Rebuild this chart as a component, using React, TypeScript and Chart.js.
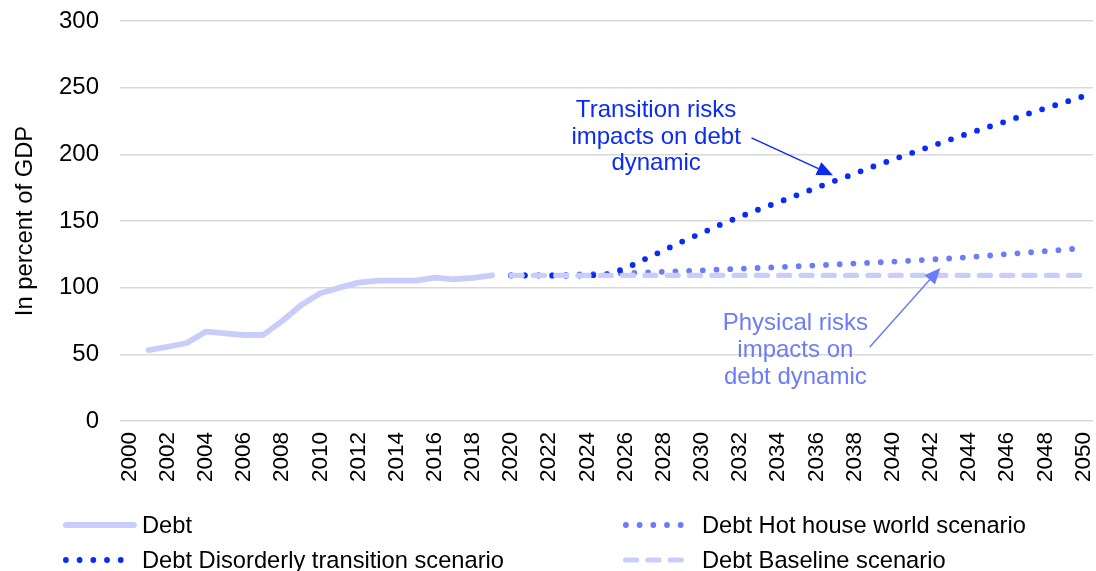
import { useEffect, useRef } from 'react';
import { Chart, registerables } from 'chart.js';

Chart.register(...registerables);

const FONT = "'Liberation Sans', Arial, sans-serif";

const years = [
  '2000', '2001', '2002', '2003', '2004', '2005', '2006', '2007', '2008', '2009',
  '2010', '2011', '2012', '2013', '2014', '2015', '2016', '2017', '2018', '2019',
  '2020', '2021', '2022', '2023', '2024', '2025', '2026', '2027', '2028', '2029',
  '2030', '2031', '2032', '2033', '2034', '2035', '2036', '2037', '2038', '2039',
  '2040', '2041', '2042', '2043', '2044', '2045', '2046', '2047', '2048', '2049',
  '2050',
];

const N20 = [null, null, null, null, null, null, null, null, null, null,
  null, null, null, null, null, null, null, null, null, null];

const debt: (number | null)[] = [
  null, 53.2, 55.7, 58.5, 67, 65.8, 64.5, 64.5, 75, 87,
  95.8, 100, 103.8, 105.3, 105.3, 105.3, 107.5, 106.3, 107.3, 109.3,
  null, null, null, null, null, null, null, null, null, null,
  null, null, null, null, null, null, null, null, null, null,
  null, null, null, null, null, null, null, null, null, null,
  null,
];

const hotHouse: (number | null)[] = [
  ...N20,
  109.2, 109.3, 109.4, 109.7, 110, 110.4, 110.9, 111.4, 111.9, 112.5,
  113, 113.6, 114.2, 114.8, 115.4, 116, 116.7, 117.4, 118.1, 118.8,
  119.5, 120.3, 121.1, 121.9, 122.9, 124, 125.2, 126.3, 127.4, 128.5,
  129.7,
];

const disorderly: (number | null)[] = [
  ...N20,
  109.2, 109.1, 109, 109, 109.2, 109.8, 114.5, 121.3, 128, 134.8,
  141, 147.5, 153.2, 158.8, 164, 169.5, 175, 180.3, 185.5, 191,
  196, 201, 206, 211, 215.8, 220.5, 225, 230, 234.5, 239,
  243.5,
];

const baseline: (number | null)[] = [
  ...N20,
  109.2, 109.2, 109.2, 109.2, 109.2, 109.2, 109.2, 109.2, 109.2, 109.2,
  109.2, 109.2, 109.2, 109.2, 109.2, 109.2, 109.2, 109.2, 109.2, 109.2,
  109.2, 109.2, 109.2, 109.2, 109.2, 109.2, 109.2, 109.2, 109.2, 109.2,
  109.2,
];

const seriesNames = [
  'Debt',
  'Debt Hot house world scenario',
  'Debt Disorderly transition scenario',
  'Debt Baseline scenario',
];

const C_LIGHT = '#C8CEFA';
const C_HOT = '#6C7CF6';
const C_DIS = '#0A2BF5';

// annotation anchors in data coordinates (category index, value)
const annotations = [
  {
    lines: ['Transition risks', 'impacts on debt', 'dynamic'],
    x: 27.6, y: 213, color: C_DIS,
    from: [32.6, 212.3], to: [36.87, 184.3],
  },
  {
    lines: ['Physical risks', 'impacts on', 'debt dynamic'],
    x: 34.9, y: 53, color: C_HOT,
    from: [38.8, 55.5], to: [42.5, 114.8],
  },
];

// legend grid: [datasetIndex, column, row]
const legendGrid = [
  [0, 0, 0],
  [1, 1, 0],
  [2, 0, 1],
  [3, 1, 1],
];
const legendColX = [63, 623];
const legendRowFromBottom = [46, 11];

const overlayPlugin = {
  id: 'overlay',
  afterDraw(chart: any) {
    const ctx = chart.ctx as CanvasRenderingContext2D;
    const xs = chart.scales.x;
    const ys = chart.scales.y;
    // annotations
    ctx.save();
    annotations.forEach((a) => {
      ctx.fillStyle = a.color;
      ctx.font = `24px ${FONT}`;
      ctx.textAlign = 'center';
      ctx.textBaseline = 'middle';
      const cx = xs.getPixelForValue(a.x);
      const cy = ys.getPixelForValue(a.y);
      const lh = 26.7;
      a.lines.forEach((t, i) => {
        ctx.fillText(t, cx, cy + (i - (a.lines.length - 1) / 2) * lh);
      });
      const x1 = xs.getPixelForValue(a.from[0]);
      const y1 = ys.getPixelForValue(a.from[1]);
      const x2 = xs.getPixelForValue(a.to[0]);
      const y2 = ys.getPixelForValue(a.to[1]);
      const ang = Math.atan2(y2 - y1, x2 - x1);
      const hl = 16;
      const hw = 7;
      const bx = x2 - hl * Math.cos(ang);
      const by = y2 - hl * Math.sin(ang);
      ctx.strokeStyle = a.color;
      ctx.lineWidth = 1.5;
      ctx.beginPath();
      ctx.moveTo(x1, y1);
      ctx.lineTo(bx, by);
      ctx.stroke();
      ctx.beginPath();
      ctx.moveTo(x2, y2);
      ctx.lineTo(bx + hw * Math.sin(ang), by - hw * Math.cos(ang));
      ctx.lineTo(bx - hw * Math.sin(ang), by + hw * Math.cos(ang));
      ctx.closePath();
      ctx.fill();
    });
    ctx.restore();

    // legend
    ctx.save();
    legendGrid.forEach(([di, col, row]) => {
      const ds = chart.data.datasets[di];
      const x0 = legendColX[col];
      const y0 = chart.height - legendRowFromBottom[row];
      ctx.strokeStyle = ds.borderColor;
      ctx.lineWidth = ds.borderWidth;
      ctx.lineCap = 'round';
      const dash = ds.borderDash || [];
      ctx.setLineDash(dash);
      ctx.beginPath();
      let len = 68;
      if (dash.length && dash[0] === 0) len = 4 * dash[1] + 0.1;
      else if (dash.length) len = 3 * dash[0] + 2 * dash[1];
      const start = x0 + ds.borderWidth / 2;
      ctx.moveTo(start, y0);
      ctx.lineTo(start + len, y0);
      ctx.stroke();
      ctx.setLineDash([]);
      ctx.fillStyle = '#000';
      ctx.font = `23.7px ${FONT}`;
      ctx.textAlign = 'left';
      ctx.textBaseline = 'middle';
      ctx.fillText(ds.label, x0 + 79, y0 + 1);
    });
    ctx.restore();
  },
};

export default function App() {
  const ref = useRef<HTMLCanvasElement | null>(null);
  useEffect(() => {
    if (!ref.current) return;
    const chart = new Chart(ref.current, {
      type: 'line',
      data: {
        labels: years,
        datasets: [
          {
            label: seriesNames[0], data: debt, borderColor: C_LIGHT, backgroundColor: C_LIGHT,
            borderWidth: 5.8, pointRadius: 0, borderCapStyle: 'round', borderJoinStyle: 'round',
            order: 3, spanGaps: false,
          },
          {
            label: seriesNames[1], data: hotHouse, borderColor: C_HOT, backgroundColor: C_HOT,
            borderWidth: 5.8, pointRadius: 0, borderCapStyle: 'round', borderDash: [0, 13.7],
            order: 2,
          },
          {
            label: seriesNames[2], data: disorderly, borderColor: C_DIS, backgroundColor: C_DIS,
            borderWidth: 5.8, pointRadius: 0, borderCapStyle: 'round', borderDash: [0, 13.7],
            order: 1,
          },
          {
            label: seriesNames[3], data: baseline, borderColor: C_LIGHT, backgroundColor: C_LIGHT,
            borderWidth: 5.2, pointRadius: 0, borderCapStyle: 'round', borderDash: [11, 11.3],
            order: 0,
          },
        ] as any,
      },
      options: {
        animation: false,
        responsive: true,
        maintainAspectRatio: false,
        layout: { padding: { left: 0, right: 3, top: 21, bottom: 80 } },
        plugins: {
          legend: { display: false },
          tooltip: { enabled: false },
        },
        scales: {
          x: {
            type: 'category',
            offset: true,
            grid: { display: false },
            border: { display: false },
            ticks: {
              autoSkip: false,
              minRotation: 90,
              maxRotation: 90,
              padding: 3,
              color: '#000',
              font: { family: FONT, size: 22.5 },
              callback: (_v: any, i: number) => (i % 2 === 0 ? years[i] : ''),
            },
            afterFit: (s: any) => { s.height = 70; s.paddingLeft = 0; s.paddingRight = 0; },
          },
          y: {
            min: 0,
            max: 300,
            ticks: {
              stepSize: 50,
              padding: 21,
              color: '#000',
              font: { family: FONT, size: 24 },
            },
            grid: { color: '#D9D9D9', lineWidth: 1.5, drawTicks: false },
            border: { display: false },
            title: {
              display: true,
              text: 'In percent of GDP',
              color: '#000',
              font: { family: FONT, size: 23.8 },
              padding: { top: 11.5, bottom: 0 },
            },
            afterFit: (s: any) => { s.width = 120; s.paddingTop = 0; s.paddingBottom = 0; },
          },
        },
      } as any,
      plugins: [overlayPlugin],
    });
    return () => chart.destroy();
  }, []);
  return (
    <div style={{ position: 'fixed', left: 0, top: 0, width: 1096, height: 571, background: '#fff' }}>
      <canvas ref={ref} />
    </div>
  );
}
